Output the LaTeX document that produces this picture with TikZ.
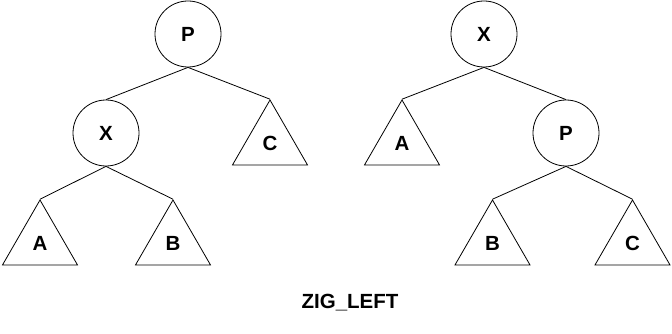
\documentclass[tikz,border=0pt]{standalone}
\usepackage{fontspec}
\setmainfont{Liberation Sans}
\usepackage{tikz}
\usetikzlibrary{shapes.geometric}
\tikzset{
  tnode/.style={circle,draw,minimum size=66pt,inner sep=0pt},
  subtree/.style={regular polygon,regular polygon sides=3,draw,minimum size=86.6pt,inner sep=0pt},
}

\begin{document}
\begin{tikzpicture}[x=1pt,y=-1pt,line width=0.8pt,font=\bfseries\fontsize{20.5}{20.5}\selectfont]
\useasboundingbox (0,0) rectangle (672,334);

\node (lp) at (188,34) [tnode] {P};
\node (lx) at (106,133) [tnode] {X};
\node (lc) at (270,143.3) [subtree] {C};
\node (la) at (40,243.3) [subtree] {A};
\node (lb) at (173,243.3) [subtree] {B};
\draw (lp.south) -- (lx.north);
\draw (lp.south) -- (lc.corner 1);
\draw (lx.south) -- (la.corner 1);
\draw (lx.south) -- (lb.corner 1);

\node (rx) at (484,34) [tnode] {X};
\node (ra) at (402,143.3) [subtree] {A};
\node (rp) at (566,133) [tnode] {P};
\node (rb) at (492.5,243.3) [subtree] {B};
\node (rc) at (632.5,243.3) [subtree] {C};
\draw (rx.south) -- (ra.corner 1);
\draw (rx.south) -- (rp.north);
\draw (rp.south) -- (rb.corner 1);
\draw (rp.south) -- (rc.corner 1);

\node (cap) at (350,303) {ZIG\_LEFT};
\end{tikzpicture}
\end{document}
